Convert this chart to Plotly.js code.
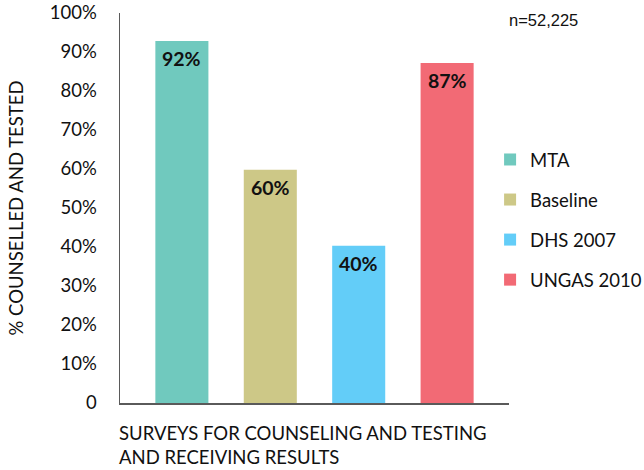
<!DOCTYPE html>
<html>
<head>
<meta charset="utf-8">
<script src="https://cdn.plot.ly/plotly-3.0.1.min.js"></script>
<style>html,body{margin:0;padding:0;background:#fff;}#chart{width:644px;height:470px;}</style>
</head>
<body>
<div id="chart"></div>
<script>
var categories = ["MTA", "Baseline", "DHS 2007", "UNGAS 2010"];
var values = [92.8, 59.8, 40.3, 87.2];
var valueLabels = ["92%", "60%", "40%", "87%"];
var colors = ["#70C9BE", "#CDC887", "#63CDF8", "#F26A75"];
var yTickVals = [0, 10, 20, 30, 40, 50, 60, 70, 80, 90, 100];
var yTickText = ["0", "10%", "20%", "30%", "40%", "50%", "60%", "70%", "80%", "90%", "100%"];
var xTitle = "SURVEYS FOR COUNSELING AND TESTING<br>AND RECEIVING RESULTS";
var yTitle = "% COUNSELLED AND TESTED";
var nNote = "n=52,225";

var FONT = "Lato, 'Open Sans', sans-serif";
var FS = 18.5;

var traces = categories.map(function (c, i) {
  return {
    type: "bar",
    name: c,
    x: [c],
    y: [values[i]],
    width: 0.6,
    marker: {color: colors[i]},
    legendgroup: "g" + i,
    hoverinfo: "none"
  };
});

var annotations = categories.map(function (c, i) {
  return {
    x: c, y: values[i], xref: "x", yref: "y",
    text: "<b>" + valueLabels[i] + "</b>",
    showarrow: false, yanchor: "top", yshift: -4,
    font: {family: FONT, size: 19.5, color: "#111"}
  };
});
annotations.push({
  xref: "paper", yref: "paper", x: 0, y: 0, xanchor: "left", yanchor: "top",
  yshift: -17, xshift: -3,
  text: xTitle, align: "left", showarrow: false,
  font: {family: FONT, size: FS, color: "#111"}
});
annotations.push({
  xref: "paper", yref: "paper", x: 1.0, y: 0.982, xanchor: "left", yanchor: "middle",
  text: nNote, showarrow: false, xshift: -2,
  font: {family: "'Liberation Sans', Arial, sans-serif", size: 16.5, color: "#111"}
});

var layout = {
  width: 644, height: 470,
  margin: {l: 120, r: 135, t: 13, b: 67, autoexpand: false},
  paper_bgcolor: "#fff", plot_bgcolor: "#fff",
  font: {family: FONT, size: FS, color: "#111"},
  barmode: "overlay",
  showlegend: true,
  legend: {
    xref: "container", yref: "container",
    x: 0.761, xanchor: "left", y: 0.532, yanchor: "middle",
    tracegroupgap: 13,
    font: {family: FONT, size: FS, color: "#111"}
  },
  xaxis: {
    type: "category",
    categoryorder: "array", categoryarray: categories,
    range: [-0.7, 3.7],
    showticklabels: false, ticks: "",
    showline: true, linecolor: "#5a5a5a", linewidth: 1.5,
    showgrid: false, zeroline: false, fixedrange: true
  },
  yaxis: {
    range: [0, 100],
    tickvals: yTickVals, ticktext: yTickText,
    ticks: "", ticklabelstandoff: 18,
    showline: true, linecolor: "#5a5a5a", linewidth: 1.5,
    showgrid: false, zeroline: false,
    tickfont: {family: FONT, size: FS, color: "#111"},
    title: {text: yTitle, standoff: 21, font: {family: FONT, size: FS, color: "#111"}}
  },
  annotations: annotations
};

Plotly.newPlot("chart", traces, layout, {displayModeBar: false, staticPlot: true});
</script>
</body>
</html>
